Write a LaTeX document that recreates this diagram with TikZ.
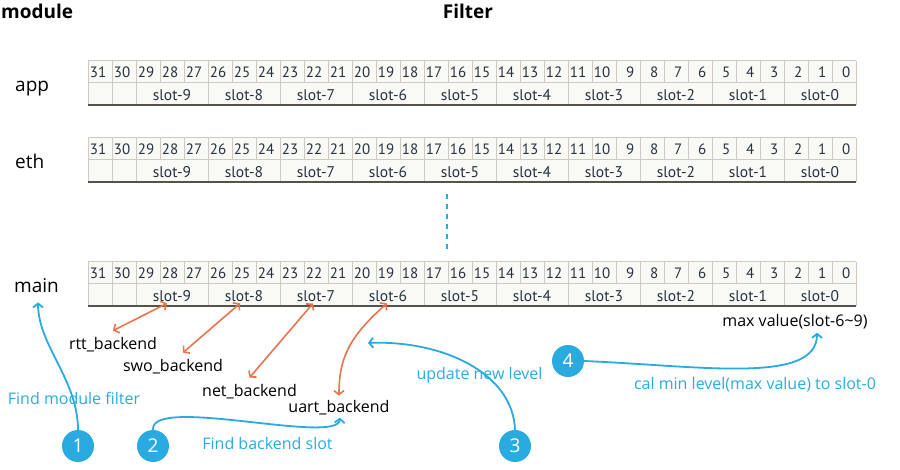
\documentclass[tikz,border=0pt]{standalone}
\usepackage{fontspec}
\setmainfont{Open Sans}
\newfontfamily\cellfont{PT Sans}
\usetikzlibrary{arrows.meta}
\definecolor{bl}{HTML}{29ABE2}
\definecolor{orng}{HTML}{E9744C}
\definecolor{gridc}{HTML}{CFC9C1}
\definecolor{celltext}{HTML}{263240}
\definecolor{botc}{HTML}{55524A}
\definecolor{cellbg}{HTML}{F9F9F6}
\begin{document}
\begin{tikzpicture}[x=1pt,y=-1pt,
  lbl/.style={font=\fontsize{19}{21}\selectfont, inner sep=0pt, anchor=base west},
  hdr/.style={font=\bfseries\fontsize{19}{21}\selectfont, inner sep=0pt},
  note/.style={font=\fontsize{16}{18}\selectfont, text=bl, inner sep=0pt, anchor=base},
  blk/.style={font=\fontsize{16}{18}\selectfont, inner sep=0pt, anchor=base},
  num/.style={font=\cellfont\fontsize{15}{17}\selectfont, text=celltext, inner sep=0pt, anchor=base east},
  slottxt/.style={font=\cellfont\fontsize{15.5}{17}\selectfont, text=celltext, inner sep=0pt, anchor=base},
  circ/.style={circle, fill=bl, minimum size=32pt, inner sep=0pt, text=white, font=\fontsize{19}{21}\selectfont},
  bluearr/.style={draw=bl, line width=1.8pt, -{Straight Barb[length=4pt,width=10pt]}},
  orarr/.style={draw=orng, line width=1.6pt, {Straight Barb[length=4pt,width=10pt]}-{Straight Barb[length=4pt,width=10pt]}},
]
\useasboundingbox (0,0) rectangle (900,470);

% headers
\node[hdr, anchor=base west] (hmod) at (1,19) {module};
\node[hdr, anchor=base] (hfil) at (468,19) {Filter};

% registers
\foreach \r/\t in {app/61, eth/138, main/262}{
  \fill[cellbg] (88,\t) rectangle (856,\t+44);
  \draw[gridc, line width=1pt] (88,\t) -- (856,\t);
  \draw[gridc, line width=1pt] (88,\t+22) -- (856,\t+22);
  \draw[gridc, line width=1pt] (88,\t) -- (88,\t+44);
  \draw[gridc, line width=1pt] (856,\t) -- (856,\t+44);
  \foreach \i in {1,...,31}{
    \draw[gridc, line width=1pt] (88+24*\i,\t) -- (88+24*\i,\t+22);
  }
  \foreach \i in {1,2,5,8,11,14,17,20,23,26,29}{
    \draw[gridc, line width=1pt] (88+24*\i,\t+22) -- (88+24*\i,\t+44);
  }
  \draw[botc, line width=2pt] (88,\t+44) -- (856,\t+44);
  \foreach \i in {0,...,31}{
    \pgfmathtruncatemacro\b{31-\i}
    \node[num] (\r-b\b) at (88+24*\i+18.5,\t+17) {\b};
  }
  \foreach \k in {0,...,9}{
    \pgfmathsetmacro\cx{88+24*(2+3*(9-\k))+36}
    \node[slottxt] (\r-s\k) at (\cx,\t+40) {slot-\k};
  }
}

% row labels
\node[lbl] (applbl) at (15,92) {app};
\node[lbl] (ethlbl) at (15,169) {eth};
\node[lbl] (mainlbl) at (14,293) {main};

% dashed continuation
\coordinate (dtop) at (447,194);
\coordinate (dbot) at (447,249);
\draw[bl, line width=2pt, dash pattern=on 5pt off 5pt] (dtop) -- (dbot);

% backend labels
\node[blk] (rtt) at (113,350) {rtt\_backend};
\node[blk] (swo) at (173,371) {swo\_backend};
\node[blk] (net) at (249.5,396) {net\_backend};
\node[blk] (uart) at (339,413) {uart\_backend};
\node[blk] (maxv) at (795,327) {max value(slot-6\textasciitilde 9)};

% notes
\node[note] (n1) at (74,405) {Find module filter};
\node[note] (n2) at (267.5,449) {Find backend slot};
\node[note] (n3) at (479.5,380) {update new level};
\node[note] (n4) at (755,389) {cal min level(max value) to slot-0};

% orange double arrows
\draw[orarr] ([xshift=-5pt,yshift=-1pt]main-s9.south) -- ([yshift=7pt]rtt.north);
\draw[orarr] ([xshift=-4pt,yshift=-1pt]main-s8.south) -- ([xshift=10pt,yshift=6pt]swo.north);
\draw[orarr] ([xshift=-3pt,yshift=-1pt]main-s7.south) -- ([yshift=6pt]net.north);
\draw[orarr] ([xshift=-1pt,yshift=-1pt]main-s6.south) .. controls +(-40,35) and +(0,-35) .. ([yshift=5pt]uart.north);

% circles
\node[circ] (c1) at (78,446) {1};
\node[circ] (c2) at (153,446) {2};
\node[circ] (c3) at (515,446) {3};
\node[circ] (c4) at (568,361) {4};

% blue arrows
\coordinate (mainin) at ([xshift=1.5pt,yshift=-9pt]mainlbl.south);
\coordinate (uartin) at ([xshift=1pt,yshift=-2pt]uart.south);
\coordinate (newlvl) at (368,343);
\coordinate (maxin) at ([xshift=22pt,yshift=-3pt]maxv.south);
\draw[bluearr] (c1.north) .. controls +(0,-50) and +(0,43) .. (mainin);
\draw[bluearr] (c2.north) .. controls +(-3,-35) and +(-2,28) .. (uartin);
\draw[bluearr] (c3.north) .. controls +(-2,-58) and +(72,-3) .. (newlvl);
\draw[bluearr] (c4.east) .. controls +(117,5) and +(0,52) .. (maxin);
\end{tikzpicture}
\end{document}
